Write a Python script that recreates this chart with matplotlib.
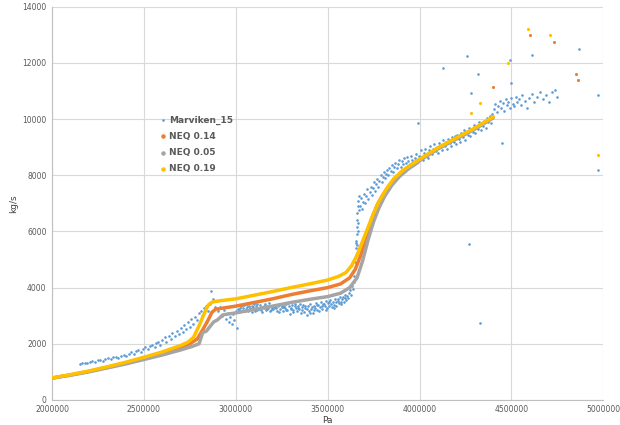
import matplotlib.pyplot as plt

# Marviken_15 measured points (pressure in Pa, flow in kg/s)
marviken_p = [
    2150000, 2165000, 2180000, 2192000, 2205000, 2220000, 2232000, 2248000, 2262000, 2275000,
    2290000, 2305000, 2318000, 2333000, 2348000, 2360000, 2375000, 2390000, 2402000, 2418000,
    2432000, 2445000, 2458000, 2470000, 2482000, 2495000, 2508000, 2520000, 2532000, 2545000,
    2558000, 2565000, 2578000, 2590000, 2600000, 2612000, 2622000, 2635000, 2645000, 2655000,
    2668000, 2678000, 2690000, 2700000, 2710000, 2718000, 2728000, 2738000, 2748000, 2758000,
    2768000, 2778000, 2790000, 2800000, 2810000, 2818000, 2828000, 2838000, 2848000, 2858000,
    2866000, 2875000, 2885000, 2895000,
    2905000, 2915000, 2925000, 2935000, 2945000, 2955000, 2962000, 2970000, 2978000, 2985000,
    2992000, 3000000, 3008000, 3012000,
    3020000, 3027000, 3033000, 3040000, 3046000, 3053000, 3060000, 3066000, 3072000, 3079000,
    3086000, 3092000, 3099000, 3105000, 3112000, 3118000, 3125000, 3131000, 3138000, 3145000,
    3151000, 3158000, 3164000, 3171000, 3177000, 3184000, 3190000, 3197000, 3203000, 3210000,
    3216000, 3223000, 3229000, 3236000, 3242000, 3249000, 3255000, 3262000, 3268000, 3275000,
    3281000, 3288000, 3294000, 3301000, 3307000, 3314000, 3320000, 3327000, 3333000, 3340000,
    3346000, 3353000, 3359000, 3366000, 3372000, 3379000, 3385000, 3392000, 3398000, 3405000,
    3411000, 3418000, 3424000, 3431000, 3437000, 3444000, 3450000, 3457000, 3463000, 3470000,
    3476000, 3483000, 3489000, 3496000, 3502000, 3509000, 3515000, 3522000, 3528000, 3535000,
    3541000, 3548000, 3554000, 3561000, 3567000, 3574000, 3580000, 3587000, 3593000, 3600000,
    3023000, 3036000, 3049000, 3063000, 3075000, 3089000, 3102000, 3115000, 3128000, 3141000,
    3155000, 3168000, 3181000, 3194000, 3207000, 3220000, 3233000, 3246000, 3259000, 3272000,
    3285000, 3298000, 3311000, 3324000, 3337000, 3350000, 3363000, 3376000, 3389000, 3402000,
    3415000, 3428000, 3441000, 3454000, 3467000, 3480000, 3493000, 3506000, 3519000, 3532000,
    3545000, 3558000, 3571000, 3584000, 3597000,
    3605000, 3612000, 3618000, 3623000, 3628000, 3633000, 3638000, 3642000, 3646000, 3649000,
    3651000, 3653000, 3655000, 3656000, 3658000, 3657000, 3659000, 3661000, 3662000, 3664000,
    3666000, 3660000, 3654000, 3663000, 3668000, 3670000, 3652000, 3665000,
    3675000, 3680000, 3686000, 3692000, 3698000, 3704000, 3710000, 3716000, 3722000, 3728000,
    3734000, 3740000, 3746000, 3752000, 3758000, 3764000, 3770000, 3776000, 3782000, 3788000,
    3794000, 3800000, 3806000, 3812000, 3818000, 3824000, 3830000, 3836000, 3842000, 3848000,
    3855000, 3862000, 3869000, 3876000, 3883000, 3890000, 3897000, 3904000, 3911000, 3918000,
    3925000, 3932000, 3939000, 3946000, 3953000, 3960000, 3967000, 3974000, 3981000, 3988000,
    3995000,
    4003000, 4010000, 4017000, 4024000, 4031000, 4038000, 4045000, 4052000, 4059000, 4066000,
    4073000, 4080000, 4087000, 4094000, 4101000, 4108000, 4115000, 4122000, 4129000, 4136000,
    4143000, 4150000, 4157000, 4164000, 4171000, 4178000, 4185000, 4192000, 4199000, 4206000,
    4213000, 4220000, 4227000, 4234000, 4241000, 4248000, 4255000, 4262000, 4269000, 4276000,
    4283000, 4290000, 4297000, 4304000, 4311000, 4318000, 4325000, 4332000, 4339000, 4346000,
    4353000, 4360000, 4367000, 4374000, 4381000, 4388000, 4395000,
    4405000, 4412000, 4420000, 4428000, 4436000, 4444000, 4452000, 4460000, 4468000, 4476000,
    4484000, 4492000, 4500000, 4508000, 4516000, 4524000, 4532000, 4540000, 4550000, 4560000,
    4572000, 4585000, 4598000, 4612000, 4625000, 4640000, 4655000, 4670000, 4690000, 4705000,
    4720000, 4735000, 4750000,
    4270000, 4330000, 3990000, 4130000, 4260000, 4320000, 4280000, 4450000, 4490000, 4500000,
    4610000, 4870000, 4970000, 4970000,
]
marviken_flow = [
    1290, 1310, 1330, 1300, 1360, 1380, 1350, 1410, 1430, 1400,
    1460, 1490, 1450, 1520, 1540, 1500, 1580, 1610, 1570, 1650,
    1690, 1640, 1730, 1780, 1720, 1820, 1870, 1800, 1910, 1960,
    1880, 2010, 2060, 1950, 2150, 2230, 2080, 2290, 2180, 2380,
    2260, 2450, 2330, 2560, 2410, 2680, 2520, 2760, 2600, 2880,
    2720, 2950, 2830, 3080, 3180, 2980, 3260, 3350, 3150, 3420,
    3880, 3600, 3300, 3520,
    3150, 3300, 2980, 3220, 2870, 3100, 2780, 2950, 2700, 3050,
    2850, 3180, 2560, 3250,
    3210, 3340, 3150, 3280, 3390, 3230, 3310, 3180, 3360, 3260,
    3120, 3300, 3400, 3240, 3330, 3190, 3280, 3370, 3220, 3310,
    3260, 3410, 3200, 3330, 3270, 3150, 3360, 3290, 3230, 3380,
    3300, 3180, 3340, 3420, 3250, 3310, 3170, 3360, 3280, 3400,
    3220, 3330, 3060, 3290, 3370, 3200, 3430, 3280, 3150, 3350,
    3240, 3080, 3310, 3390, 3120, 3260, 3040, 3330, 3180, 3420,
    3250, 3110, 3360, 3280, 3450, 3200, 3380, 3300, 3480, 3240,
    3400, 3330, 3510, 3270, 3440, 3360, 3560, 3300, 3470, 3390,
    3600, 3350, 3520, 3440, 3650, 3410, 3580, 3500, 3720, 3550,
    3290, 3370, 3160, 3420, 3230, 3350, 3160, 3430, 3250, 3140,
    3330, 3240, 3440, 3210, 3320, 3260, 3130, 3390, 3300, 3190,
    3440, 3250, 3120, 3330, 3270, 3420, 3190, 3340, 3230, 3090,
    3300, 3190, 3380, 3150, 3340, 3410, 3200, 3500, 3420, 3280,
    3480, 3580, 3480, 3660, 3620,
    3700, 3620, 3800, 3900, 3750, 4050, 3950, 4200, 4400, 4650,
    4900, 5150, 5400, 5650, 5900, 5250, 6150, 6400, 6650, 6900,
    7100, 5500, 4800, 6000, 6750, 7250, 5600, 6300,
    6900, 7200, 6800, 7050, 7350, 7000, 7250, 7500, 7150, 7400,
    7600, 7300, 7550, 7750, 7450, 7700, 7850, 7600, 7800, 8000,
    7750, 7950, 8100, 7900, 8050, 8200, 8000, 8250, 8150, 8350,
    8100, 8300, 8450, 8250, 8400, 8550, 8300, 8500, 8400, 8600,
    8450, 8650, 8500, 8400, 8700, 8550, 8350, 8600, 8750, 8500,
    8700,
    8650, 8900, 8550, 8800, 8950, 8700, 8600, 8900, 9050, 8750,
    8950, 9100, 8850, 9000, 8800, 9150, 9000, 8900, 9250, 9050,
    9200, 8950, 9300, 9150, 9050, 9350, 9200, 9400, 9100, 9450,
    9300, 9200, 9500, 9350, 9600, 9250, 9550, 9450, 9700, 9400,
    9650, 9550, 9800, 9500, 9750, 9650, 9900, 9600, 9850, 9750,
    9950, 9700, 10050, 9900, 10100, 9850, 10200,
    10350, 10550, 10250, 10480, 10650, 10400, 10580, 10300, 10700, 10500,
    10620, 10380, 10750, 10550, 10450, 10800, 10600, 10700, 10500, 10850,
    10650, 10400, 10750, 10900, 10600, 10800, 10950, 10700, 10850, 10600,
    10950, 11050, 10800,
    5560, 2740, 9870, 11830, 12260, 11620, 10940, 9160, 12090, 11270,
    12300, 12480, 10870, 8200,
]

# NEQ model curves
neq019_p = [2000000, 2100000, 2200000, 2300000, 2400000, 2500000, 2600000, 2700000, 2740000,
            2770000, 2800000, 2830000, 2850000, 2870000, 2900000, 3000000, 3100000, 3200000,
            3300000, 3400000, 3500000, 3560000, 3600000, 3630000, 3660000, 3690000, 3720000,
            3750000, 3780000, 3820000, 3860000, 3910000, 3960000, 4000000, 4100000, 4200000,
            4300000, 4400000]
neq019_flow = [785, 900, 1030, 1180, 1340, 1520, 1710, 1940, 2060,
               2230, 2640, 3100, 3380, 3480, 3520, 3600, 3730, 3860,
               4000, 4130, 4270, 4400, 4540, 4780, 5150, 5650, 6150,
               6650, 7080, 7520, 7880, 8180, 8400, 8570, 8980, 9330,
               9680, 10080]

neq014_p = [2000000, 2100000, 2200000, 2300000, 2400000, 2500000, 2600000, 2700000, 2750000,
            2790000, 2820000, 2845000, 2870000, 2890000, 2950000, 3000000, 3100000, 3200000,
            3300000, 3400000, 3500000, 3570000, 3620000, 3650000, 3680000, 3710000, 3740000,
            3770000, 3800000, 3840000, 3880000, 3930000, 3980000, 4000000, 4100000, 4200000,
            4300000, 4400000]
neq014_flow = [780, 890, 1015, 1160, 1310, 1480, 1660, 1880, 2000,
               2170, 2500, 2790, 3120, 3230, 3290, 3340, 3470, 3600,
               3750, 3880, 4000, 4130, 4350, 4650, 5150, 5800, 6450,
               6950, 7300, 7680, 7980, 8250, 8470, 8550, 8960, 9310,
               9660, 10060]

neq005_p = [2000000, 2100000, 2200000, 2300000, 2400000, 2500000, 2600000, 2700000, 2760000,
            2800000, 2820000, 2840000, 2860000, 2880000, 2900000, 2930000, 3000000, 3100000,
            3200000, 3300000, 3400000, 3500000, 3570000, 3620000, 3660000, 3690000, 3720000,
            3750000, 3780000, 3810000, 3850000, 3890000, 3940000, 3990000, 4000000, 4100000,
            4200000, 4300000, 4400000]
neq005_flow = [775, 880, 1000, 1140, 1280, 1440, 1600, 1780, 1900,
               2000, 2400, 2450, 2620, 2780, 2850, 3030, 3100, 3220,
               3340, 3470, 3580, 3680, 3800, 4000, 4350, 4950, 5700,
               6350, 6850, 7250, 7650, 7950, 8230, 8450, 8520, 8940,
               9290, 9640, 10040]

# scattered model points past the end of the curves
neq014_extra_p = [4400000, 4600000, 4730000, 4850000, 4860000]
neq014_extra_flow = [11160, 13010, 12730, 11620, 11410]
neq019_extra_p = [4280000, 4330000, 4480000, 4590000, 4710000, 4970000]
neq019_extra_flow = [10230, 10590, 12010, 13220, 13010, 8730]

x_ticks = [2000000, 2500000, 3000000, 3500000, 4000000, 4500000, 5000000]
y_ticks = [0, 2000, 4000, 6000, 8000, 10000, 12000, 14000]


def main():

    blue = "#5B9BD5"
    orange = "#ED7D31"
    gray = "#A5A5A5"
    gold = "#FFC000"

    fig = plt.figure(figsize=(6.2, 4.25), dpi=100)
    ax = fig.add_axes([0.084, 0.059, 0.889, 0.925])

    ax.scatter(marviken_p, marviken_flow, s=3.5, color=blue,
               linewidths=0, label="Marviken_15", zorder=2)

    ax.plot(neq014_p, neq014_flow, color=orange, lw=2.5,
            solid_capstyle="round", zorder=3)
    ax.scatter(neq014_extra_p, neq014_extra_flow, s=5, color=orange,
               linewidths=0, zorder=3)

    ax.plot(neq005_p, neq005_flow, color=gray, lw=2.5,
            solid_capstyle="round", zorder=3)

    ax.plot(neq019_p, neq019_flow, color=gold, lw=2.5,
            solid_capstyle="round", zorder=4)
    ax.scatter(neq019_extra_p, neq019_extra_flow, s=5, color=gold,
               linewidths=0, zorder=4)

    # legend handles as small dots, like the Excel legend
    ax.scatter([], [], s=5, color=orange, label="NEQ 0.14")
    ax.scatter([], [], s=5, color=gray, label="NEQ 0.05")
    ax.scatter([], [], s=5, color=gold, label="NEQ 0.19")

    ax.set_xlim(2000000, 5000000)
    ax.set_ylim(0, 14000)
    ax.set_xticks(x_ticks)
    ax.set_xticklabels([str(v) for v in x_ticks])
    ax.set_yticks(y_ticks)
    ax.set_yticklabels([str(v) for v in y_ticks])

    ax.grid(True, color="#D9D9D9", linewidth=0.8)
    ax.set_axisbelow(True)
    for side in ["top", "right"]:
        ax.spines[side].set_visible(False)
    for side in ["left", "bottom"]:
        ax.spines[side].set_color("#BFBFBF")
        ax.spines[side].set_linewidth(0.8)

    ax.tick_params(length=0, labelsize=5.5, colors="#595959", pad=4)

    ax.set_xlabel("Pa", fontsize=6.5, color="#404040", labelpad=1)
    ax.set_ylabel("kg/s", fontsize=6.5, color="#404040", labelpad=3)

    leg = ax.legend(
        loc="upper left",
        bbox_to_anchor=(0.253, 0.737),
        bbox_transform=fig.transFigure,
        frameon=False,
        fontsize=6.5,
        handlelength=0.6,
        handletextpad=0.4,
        labelspacing=0.8,
        borderaxespad=0,
    )
    for text in leg.get_texts():
        text.set_color("#595959")
        text.set_fontweight("bold")

    fig.savefig("out.png", dpi=100)
    plt.close(fig)


if __name__ == "__main__":
    main()
